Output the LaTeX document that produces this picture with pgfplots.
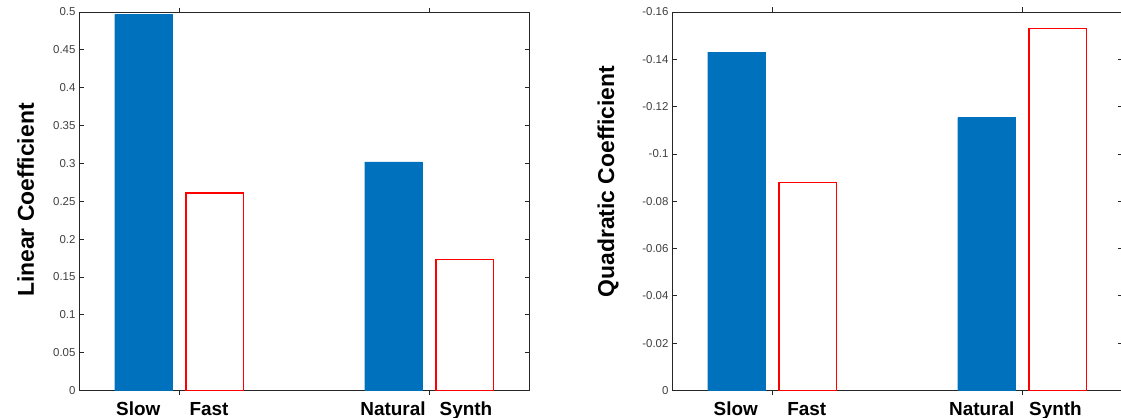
\documentclass[border=0pt]{standalone}
\usepackage{pgfplots}
\pgfplotsset{compat=1.18}
\usepackage{fontspec}
\setmainfont{Liberation Sans}

\definecolor{mblue}{RGB}{0,114,189}
\definecolor{mred}{RGB}{255,0,0}
\definecolor{axgray}{RGB}{38,38,38}
\definecolor{tickgray}{RGB}{64,64,64}

\pgfplotsset{
  coefax/.style={
    scale only axis, width=450bp, height=378.5bp,
    xmin=0.6, xmax=2.4,
    axis line style={axgray, line width=0.8bp},
    tick style={axgray, line width=0.8bp},
    major tick length=4.5bp,
    tick align=inside,
    xtick={1,2}, xticklabels={},
    extra x tick style={tick style={draw=none},
      tick label style={font=\fontsize{19}{20}\selectfont\bfseries, text=black,
        anchor=base, yshift=-20.5bp}},
    y tick label style={font=\fontsize{11.5}{13}\selectfont, text=tickgray},
    ybar, bar width=0.2286,
  },
  ylab/.style 2 args={every axis y label/.style={at={(axis description cs:#1,#2)},
    rotate=90, anchor=center, font=\fontsize{23}{25}\selectfont\bfseries}},
}

\begin{document}
\begin{tikzpicture}
\useasboundingbox (0,0) rectangle (1121bp,418bp);

% left panel: linear coefficient
\begin{axis}[coefax,
  at={(79bp,27.5bp)}, anchor=south west,
  ymin=0, ymax=0.5,
  ytick={0,0.05,0.1,0.15,0.2,0.25,0.3,0.35,0.4,0.45,0.5},
  yticklabels={0,0.05,0.1,0.15,0.2,0.25,0.3,0.35,0.4,0.45,0.5},
  extra x ticks={0.837,1.12,1.856,2.148},
  extra x tick labels={Slow,Fast,Natural,Synth},
  ylabel={Linear Coefficient},
  ylab={-0.1184}{0.503},
]
\addplot[bar shift=0pt, fill=mblue, draw=mblue, line width=0.3bp]
  coordinates {(0.857,0.497) (1.857,0.302)};
\addplot[bar shift=0pt, fill=white, draw=mred, line width=1.5bp]
  coordinates {(1.143,0.2606) (2.143,0.173)};
\end{axis}

% right panel: quadratic coefficient
\begin{axis}[coefax,
  at={(672bp,27.5bp)}, anchor=south west,
  y dir=reverse,
  ymin=-0.16, ymax=0,
  ytick={-0.16,-0.14,-0.12,-0.1,-0.08,-0.06,-0.04,-0.02,0},
  yticklabels={-0.16,-0.14,-0.12,-0.1,-0.08,-0.06,-0.04,-0.02,0},
  extra x ticks={0.855,1.139,1.839,2.134},
  extra x tick labels={Slow,Fast,Natural,Synth},
  ylabel={Quadratic Coefficient},
  ylab={-0.142}{0.552},
]
\addplot[bar shift=0pt, fill=mblue, draw=mblue, line width=0.3bp]
  coordinates {(0.857,-0.143) (1.857,-0.1154)};
\addplot[bar shift=0pt, fill=white, draw=mred, line width=1.5bp]
  coordinates {(1.143,-0.088) (2.143,-0.1531)};
\end{axis}
\end{tikzpicture}
\end{document}
